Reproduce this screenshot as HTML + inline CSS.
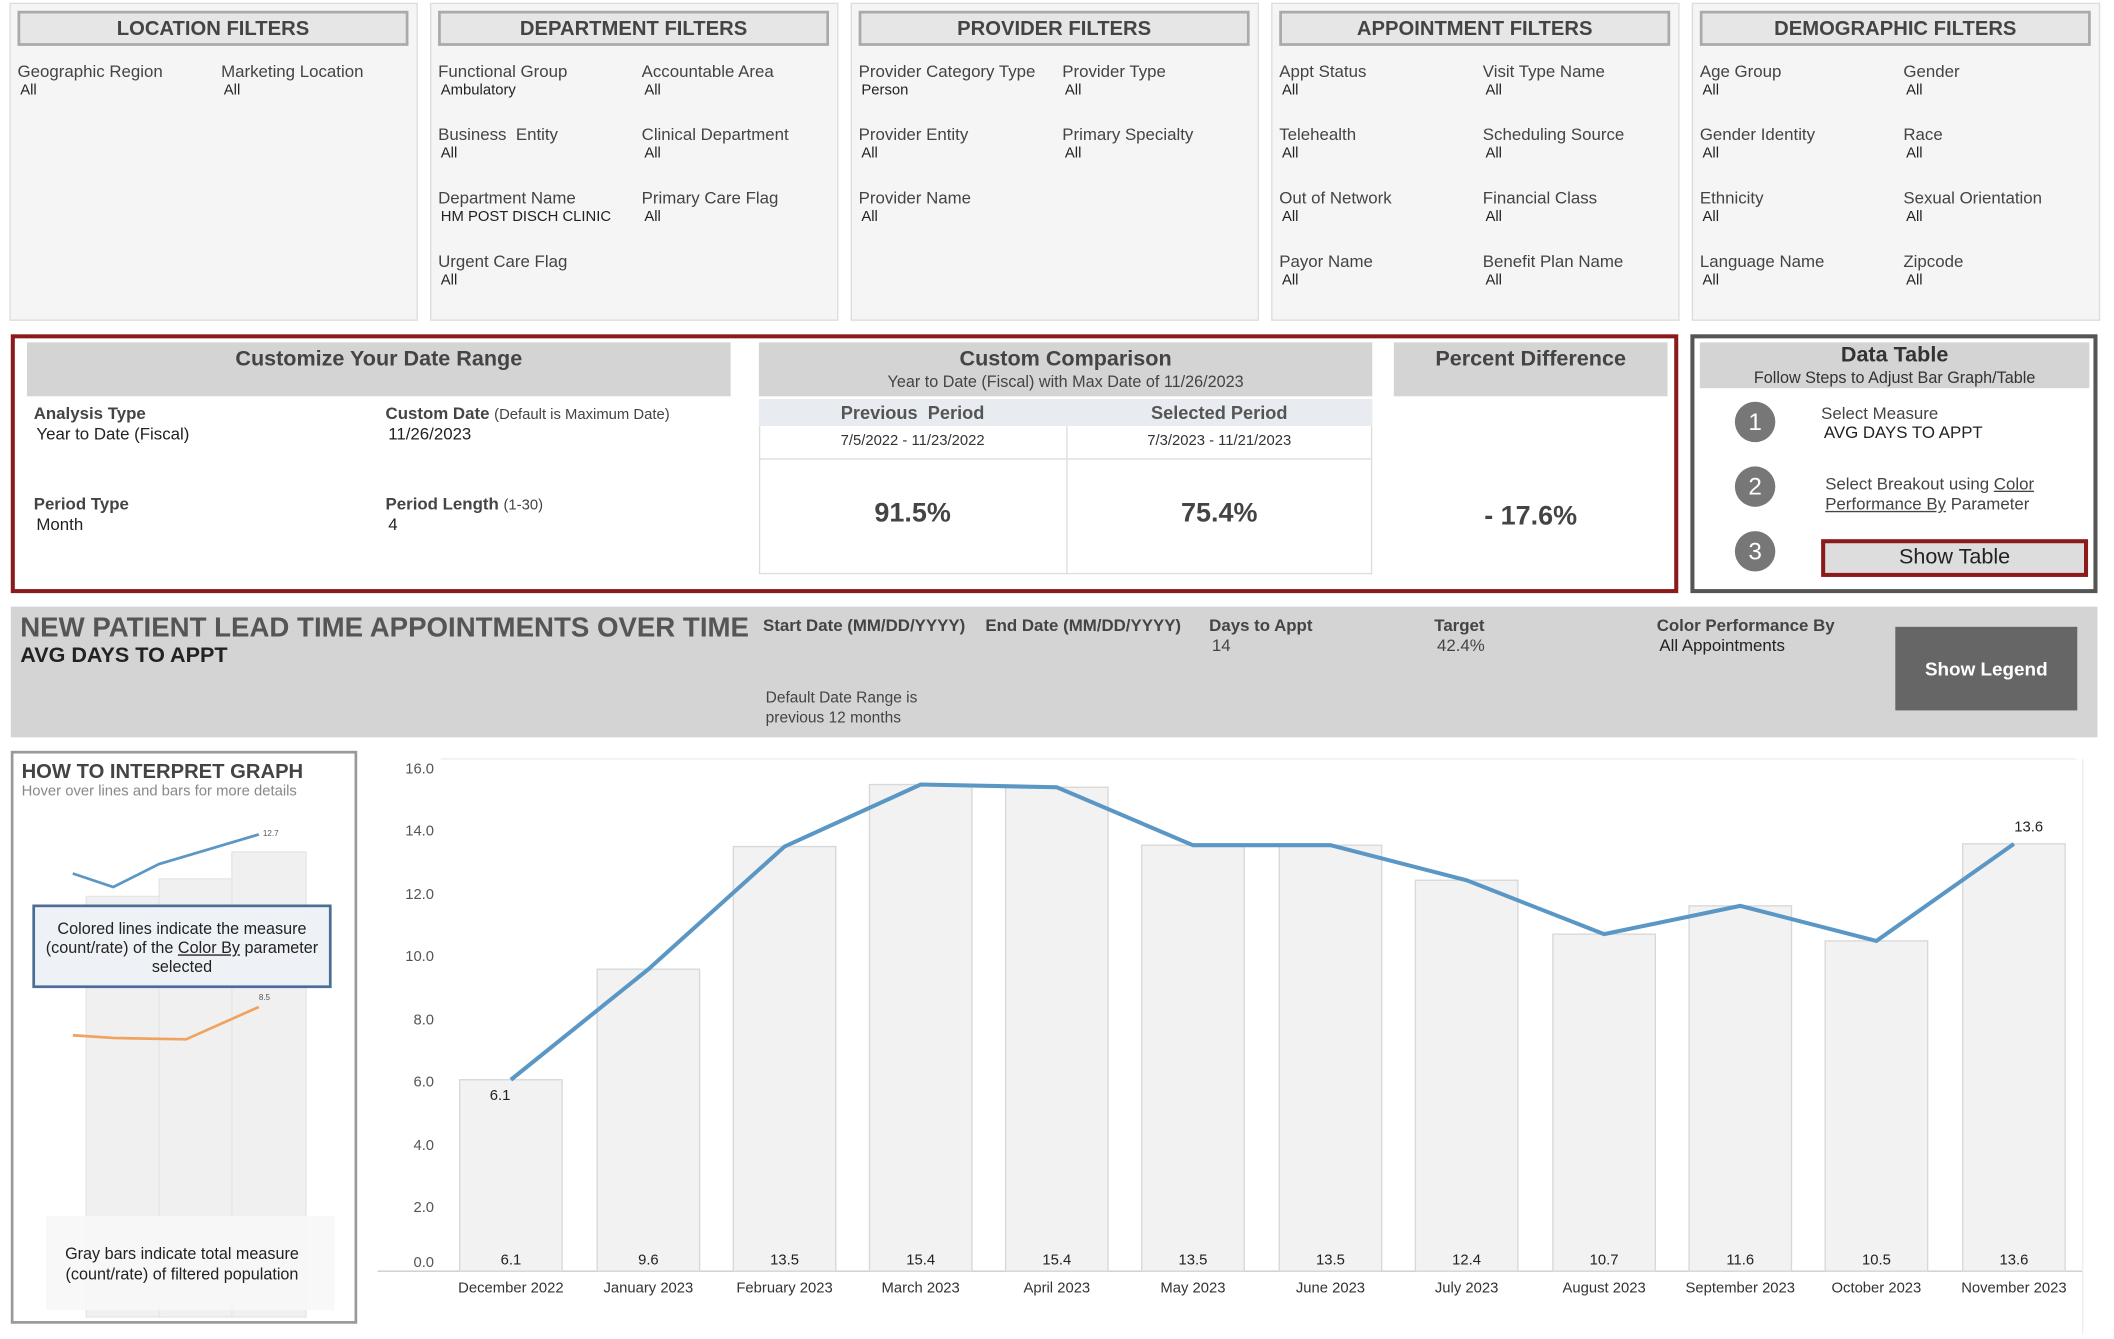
<!DOCTYPE html>
<html><head><meta charset="utf-8"><style>
html,body{margin:0;padding:0;background:#fff;width:2114px;height:1338px;overflow:hidden}
#w{position:absolute;left:0;top:0;width:1563px;height:993px;transform:scale(1.348);transform-origin:0 0;font-family:"Liberation Sans",Arial,sans-serif;color:#333}
.a{position:absolute}
.panel{position:absolute;top:2px;width:303px;height:236px;background:#f5f5f5;border:1px solid #ddd;box-sizing:border-box}
.ph{position:absolute;left:5px;top:5px;width:290px;height:26px;background:#e6e6e6;border:2px solid #aaa;box-sizing:border-box;text-align:center;font-weight:bold;font-size:15px;line-height:24px;color:#444}
.lab{position:absolute;font-size:12.5px;color:#444}
.val{position:absolute;font-size:11px;color:#222}
.b{font-weight:bold}
</style></head><body><div id="w">

<div class="panel" style="left:7px"><div class="ph">LOCATION FILTERS</div>
<div class="lab" style="left:5px;top:43px">Geographic Region</div><div class="val" style="left:7px;top:58px">All</div>
<div class="lab" style="left:156px;top:43px">Marketing Location</div><div class="val" style="left:158px;top:58px">All</div></div>

<div class="panel" style="left:319px"><div class="ph">DEPARTMENT FILTERS</div>
<div class="lab" style="left:5px;top:43px">Functional Group</div><div class="val" style="left:7px;top:58px">Ambulatory</div>
<div class="lab" style="left:156px;top:43px">Accountable Area</div><div class="val" style="left:158px;top:58px">All</div>
<div class="lab" style="left:5px;top:90px">Business&nbsp; Entity</div><div class="val" style="left:7px;top:105px">All</div>
<div class="lab" style="left:156px;top:90px">Clinical Department</div><div class="val" style="left:158px;top:105px">All</div>
<div class="lab" style="left:5px;top:137px">Department Name</div><div class="val" style="left:7px;top:152px">HM POST DISCH CLINIC</div>
<div class="lab" style="left:156px;top:137px">Primary Care Flag</div><div class="val" style="left:158px;top:152px">All</div>
<div class="lab" style="left:5px;top:184px">Urgent Care Flag</div><div class="val" style="left:7px;top:199px">All</div></div>

<div class="panel" style="left:631px"><div class="ph">PROVIDER FILTERS</div>
<div class="lab" style="left:5px;top:43px">Provider Category Type</div><div class="val" style="left:7px;top:58px">Person</div>
<div class="lab" style="left:156px;top:43px">Provider Type</div><div class="val" style="left:158px;top:58px">All</div>
<div class="lab" style="left:5px;top:90px">Provider Entity</div><div class="val" style="left:7px;top:105px">All</div>
<div class="lab" style="left:156px;top:90px">Primary Specialty</div><div class="val" style="left:158px;top:105px">All</div>
<div class="lab" style="left:5px;top:137px">Provider Name</div><div class="val" style="left:7px;top:152px">All</div></div>

<div class="panel" style="left:943px"><div class="ph">APPOINTMENT FILTERS</div>
<div class="lab" style="left:5px;top:43px">Appt Status</div><div class="val" style="left:7px;top:58px">All</div>
<div class="lab" style="left:156px;top:43px">Visit Type Name</div><div class="val" style="left:158px;top:58px">All</div>
<div class="lab" style="left:5px;top:90px">Telehealth</div><div class="val" style="left:7px;top:105px">All</div>
<div class="lab" style="left:156px;top:90px">Scheduling Source</div><div class="val" style="left:158px;top:105px">All</div>
<div class="lab" style="left:5px;top:137px">Out of Network</div><div class="val" style="left:7px;top:152px">All</div>
<div class="lab" style="left:156px;top:137px">Financial Class</div><div class="val" style="left:158px;top:152px">All</div>
<div class="lab" style="left:5px;top:184px">Payor Name</div><div class="val" style="left:7px;top:199px">All</div>
<div class="lab" style="left:156px;top:184px">Benefit Plan Name</div><div class="val" style="left:158px;top:199px">All</div></div>

<div class="panel" style="left:1255px"><div class="ph">DEMOGRAPHIC FILTERS</div>
<div class="lab" style="left:5px;top:43px">Age Group</div><div class="val" style="left:7px;top:58px">All</div>
<div class="lab" style="left:156px;top:43px">Gender</div><div class="val" style="left:158px;top:58px">All</div>
<div class="lab" style="left:5px;top:90px">Gender Identity</div><div class="val" style="left:7px;top:105px">All</div>
<div class="lab" style="left:156px;top:90px">Race</div><div class="val" style="left:158px;top:105px">All</div>
<div class="lab" style="left:5px;top:137px">Ethnicity</div><div class="val" style="left:7px;top:152px">All</div>
<div class="lab" style="left:156px;top:137px">Sexual Orientation</div><div class="val" style="left:158px;top:152px">All</div>
<div class="lab" style="left:5px;top:184px">Language Name</div><div class="val" style="left:7px;top:199px">All</div>
<div class="lab" style="left:156px;top:184px">Zipcode</div><div class="val" style="left:158px;top:199px">All</div></div>

<div class="a" style="left:8px;top:248px;width:1237px;height:192px;border:3px solid #8b1a1a;box-sizing:border-box"></div>
<div class="a" style="left:20px;top:254px;width:522px;height:40px;background:#d4d4d4;text-align:center;font-weight:bold;font-size:16px;line-height:26px;color:#444">Customize Your Date Range</div>
<div class="lab b" style="left:25px;top:300px">Analysis Type</div><div class="lab" style="left:27px;top:315px;color:#222">Year to Date (Fiscal)</div>
<div class="lab" style="left:286px;top:300px"><b>Custom Date</b> <span style="font-size:11px">(Default is Maximum Date)</span></div><div class="lab" style="left:288px;top:315px;color:#222">11/26/2023</div>
<div class="lab b" style="left:25px;top:367px">Period Type</div><div class="lab" style="left:27px;top:382px;color:#222">Month</div>
<div class="lab" style="left:286px;top:367px"><b>Period Length</b> <span style="font-size:11px">(1-30)</span></div><div class="lab" style="left:288px;top:382px;color:#222">4</div>

<div class="a" style="left:563px;top:254px;width:455px;height:40px;background:#d4d4d4;text-align:center;color:#444"><div style="font-weight:bold;font-size:16px;margin-top:4px">Custom Comparison</div><div style="font-size:12px">Year to Date (Fiscal) with Max Date of 11/26/2023</div></div>
<div class="a" style="left:563px;top:296px;width:455px;height:130px;border:1px solid #ddd;box-sizing:border-box"></div>
<div class="a" style="left:791px;top:296px;width:1px;height:130px;background:#ddd"></div>
<div class="a" style="left:563px;top:296px;width:455px;height:20px;background:#e8ecf0"></div>
<div class="a b" style="left:563px;top:299px;width:228px;text-align:center;font-size:13.5px;color:#555">Previous&nbsp; Period</div>
<div class="a b" style="left:791px;top:299px;width:227px;text-align:center;font-size:13.5px;color:#555">Selected Period</div>
<div class="a" style="left:563px;top:316px;width:455px;height:24px;border-bottom:1px solid #ddd"></div>
<div class="a" style="left:563px;top:321px;width:228px;text-align:center;font-size:11px;color:#333">7/5/2022 - 11/23/2022</div>
<div class="a" style="left:791px;top:321px;width:227px;text-align:center;font-size:11px;color:#333">7/3/2023 - 11/21/2023</div>
<div class="a b" style="left:563px;top:370px;width:228px;text-align:center;font-size:20px;color:#444">91.5%</div>
<div class="a b" style="left:791px;top:370px;width:227px;text-align:center;font-size:20px;color:#444">75.4%</div>
<div class="a" style="left:1034px;top:254px;width:203px;height:40px;background:#d4d4d4;text-align:center;font-weight:bold;font-size:16px;line-height:26px;color:#444">Percent Difference</div>
<div class="a b" style="left:1034px;top:372px;width:203px;text-align:center;font-size:20px;color:#444">- 17.6%</div>

<div class="a" style="left:1254px;top:248px;width:302px;height:192px;border:3px solid #555;box-sizing:border-box"></div>
<div class="a" style="left:1261px;top:254px;width:289px;height:34px;background:#d4d4d4;text-align:center;color:#333"><div style="font-weight:bold;font-size:16px;margin-top:1px">Data Table</div><div style="font-size:12px">Follow Steps to Adjust Bar Graph/Table</div></div>
<div class="a" style="left:1287px;top:298px;width:30px;height:30px;border-radius:50%;background:#777;color:#fff;text-align:center;line-height:30px;font-size:18px">1</div>
<div class="a" style="left:1287px;top:346px;width:30px;height:30px;border-radius:50%;background:#777;color:#fff;text-align:center;line-height:30px;font-size:18px">2</div>
<div class="a" style="left:1287px;top:394px;width:30px;height:30px;border-radius:50%;background:#777;color:#fff;text-align:center;line-height:30px;font-size:18px">3</div>
<div class="lab" style="left:1351px;top:300px">Select Measure</div><div class="lab" style="left:1353px;top:314px;color:#222">AVG DAYS TO APPT</div>
<div class="lab" style="left:1354px;top:352px;line-height:15px">Select Breakout using <u>Color</u><br><u>Performance By</u> Parameter</div>
<div class="a" style="left:1351px;top:400px;width:198px;height:28px;border:3px solid #8b1a1a;box-sizing:border-box;background:#ddd;text-align:center;font-size:16px;line-height:22px;color:#222">Show Table</div>

<div class="a" style="left:8px;top:450px;width:1548px;height:97px;background:#d4d4d4"></div>
<div class="a b" style="left:15px;top:454px;font-size:20.5px;color:#555">NEW PATIENT LEAD TIME APPOINTMENTS OVER TIME</div>
<div class="a b" style="left:15px;top:478px;font-size:16px;color:#222">AVG DAYS TO APPT</div>
<div class="lab b" style="left:566px;top:457px">Start Date (MM/DD/YYYY)</div>
<div class="lab b" style="left:731px;top:457px">End Date (MM/DD/YYYY)</div>
<div class="lab b" style="left:897px;top:457px">Days to Appt</div><div class="lab" style="left:899px;top:472px">14</div>
<div class="lab b" style="left:1064px;top:457px">Target</div><div class="lab" style="left:1066px;top:472px">42.4%</div>
<div class="lab b" style="left:1229px;top:457px">Color Performance By</div><div class="lab" style="left:1231px;top:472px;color:#222">All Appointments</div>
<div class="lab" style="left:568px;top:511px;font-size:11.5px;line-height:15px">Default Date Range is<br>previous 12 months</div>
<div class="a b" style="left:1406px;top:465px;width:135px;height:62px;background:#666;color:#fff;text-align:center;line-height:62px;font-size:14px">Show Legend</div>

<div class="a" style="left:8px;top:557px;width:257px;height:425px;border:2px solid #999;box-sizing:border-box;background:#fff"></div>
<div class="a b" style="left:16px;top:564px;font-size:15px;color:#444">HOW TO INTERPRET GRAPH</div>
<div class="a" style="left:16px;top:581px;font-size:11px;color:#888">Hover over lines and bars for more details</div>
<svg class="a" style="left:8px;top:557px" width="257" height="425">
<rect x="56" y="108" width="56" height="312" fill="#f0f0f0" stroke="#e6e6e6"/>
<rect x="110" y="95" width="55" height="325" fill="#f0f0f0" stroke="#e6e6e6"/>
<rect x="164" y="75" width="55" height="345" fill="#f0f0f0" stroke="#e6e6e6"/>
<polyline points="46,91 76,101 110,84 184,62" fill="none" stroke="#5b97c4" stroke-width="2"/>
<text x="187" y="63" font-size="6" fill="#555" font-family="Liberation Sans">12.7</text>
<polyline points="46,211 76,213 130,214 184,190" fill="none" stroke="#f0a35e" stroke-width="2"/>
<text x="184" y="185" font-size="6" fill="#555" font-family="Liberation Sans">8.5</text>
<rect x="26" y="345" width="214" height="70" fill="#f7f7f7" opacity="0.9"/>
</svg>
<div class="a" style="left:24px;top:671px;width:222px;height:62px;border:2px solid #4a6e96;box-sizing:border-box;background:#eef2f6;text-align:center;font-size:12px;line-height:14px;padding-top:9px;color:#222">Colored lines indicate the measure (count/rate) of the <u>Color By</u> parameter selected</div>
<div class="a" style="left:34px;top:923px;width:202px;text-align:center;font-size:12px;line-height:15px;color:#222">Gray bars indicate total measure (count/rate) of filtered population</div>

<svg class="a" style="left:270px;top:557px" width="1290" height="433" font-family="Liberation Sans">
<g transform="translate(-270,-557)">
<line x1="327" y1="563" x2="1540" y2="563" stroke="#eee"/>
<line x1="280" y1="943" x2="1545" y2="943" stroke="#ccc"/>
<line x1="1545" y1="563" x2="1545" y2="990" stroke="#eee"/>
<g font-size="11" fill="#555" text-anchor="end">
<text x="322" y="574">16.0</text><text x="322" y="620">14.0</text><text x="322" y="667">12.0</text><text x="322" y="713">10.0</text><text x="322" y="760">8.0</text><text x="322" y="806">6.0</text><text x="322" y="853">4.0</text><text x="322" y="899">2.0</text><text x="322" y="940">0.0</text>
</g>
<g fill="#f2f2f2" stroke="#d8d8d8">
<rect x="341" y="801" width="76" height="142"/>
<rect x="443" y="719" width="76" height="224"/>
<rect x="544" y="628" width="76" height="315"/>
<rect x="645" y="582" width="76" height="361"/>
<rect x="746" y="584" width="76" height="359"/>
<rect x="847" y="627" width="76" height="316"/>
<rect x="949" y="627" width="76" height="316"/>
<rect x="1050" y="653" width="76" height="290"/>
<rect x="1152" y="693" width="76" height="250"/>
<rect x="1253" y="672" width="76" height="271"/>
<rect x="1354" y="698" width="76" height="245"/>
<rect x="1456" y="626" width="76" height="317"/>
</g>
<polyline points="379,801 481,719 582,628 683,582 784,584 885,627 987,627 1088,653 1190,693 1291,672 1392,698 1494,626" fill="none" stroke="#5b97c4" stroke-width="3"/>
<g font-size="11" fill="#222" text-anchor="middle">
<text x="371" y="816">6.1</text><text x="1505" y="617">13.6</text>
<text x="379" y="938">6.1</text><text x="481" y="938">9.6</text><text x="582" y="938">13.5</text><text x="683" y="938">15.4</text><text x="784" y="938">15.4</text><text x="885" y="938">13.5</text><text x="987" y="938">13.5</text><text x="1088" y="938">12.4</text><text x="1190" y="938">10.7</text><text x="1291" y="938">11.6</text><text x="1392" y="938">10.5</text><text x="1494" y="938">13.6</text>
</g>
<g font-size="11" fill="#333" text-anchor="middle">
<text x="379" y="959">December 2022</text><text x="481" y="959">January 2023</text><text x="582" y="959">February 2023</text><text x="683" y="959">March 2023</text><text x="784" y="959">April 2023</text><text x="885" y="959">May 2023</text><text x="987" y="959">June 2023</text><text x="1088" y="959">July 2023</text><text x="1190" y="959">August 2023</text><text x="1291" y="959">September 2023</text><text x="1392" y="959">October 2023</text><text x="1494" y="959">November 2023</text>
</g>
</g>
</svg>
</div></body></html>
